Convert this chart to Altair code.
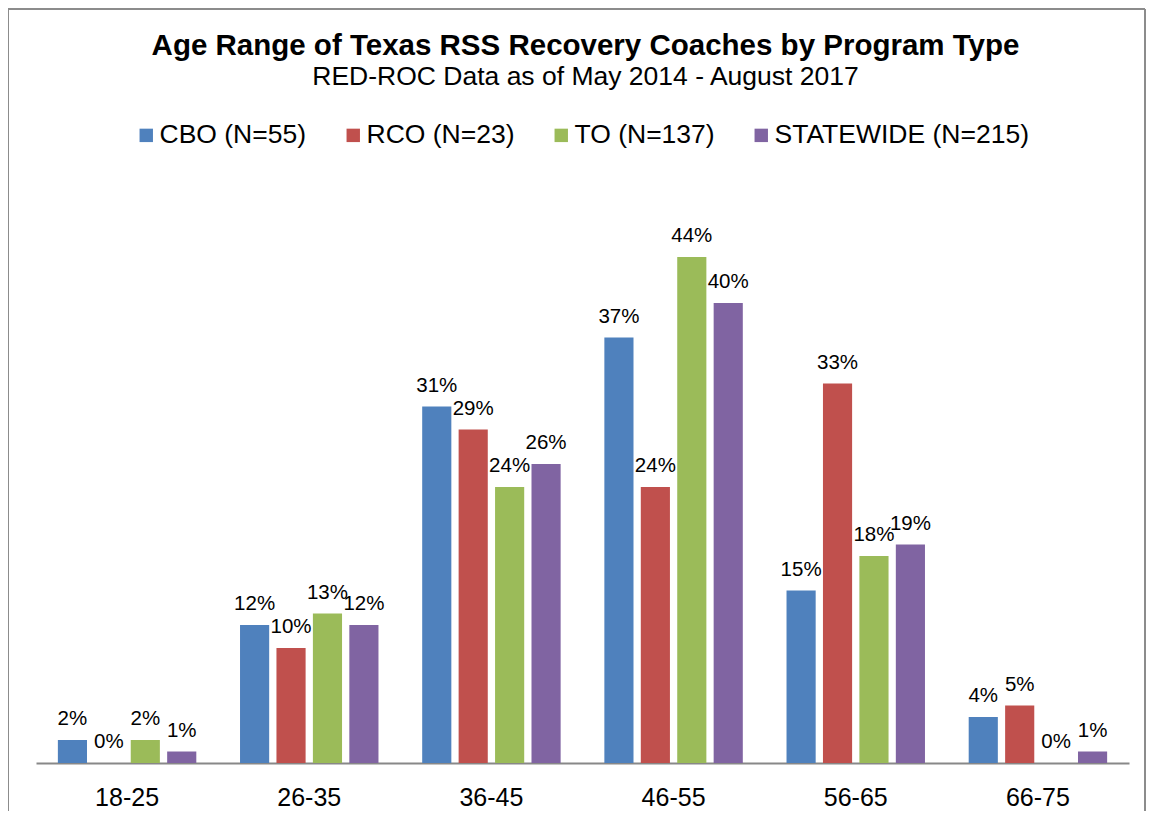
import altair as alt
import pandas as pd

age_groups = ["18-25", "26-35", "36-45", "46-55", "56-65", "66-75"]
programs = ["CBO (N=55)", "RCO (N=23)", "TO (N=137)", "STATEWIDE (N=215)"]
cbo = [2, 12, 31, 37, 15, 4]
rco = [0, 10, 29, 24, 33, 5]
to = [2, 13, 24, 44, 18, 0]
statewide = [1, 12, 26, 40, 19, 1]
colors = ["#4F81BD", "#C0504D", "#9BBB59", "#8064A2"]

rows = []
for prog, vals in zip(programs, [cbo, rco, to, statewide]):
    for age, v in zip(age_groups, vals):
        rows.append({"age": age, "program": prog, "value": v, "label": f"{v}%"})
df = pd.DataFrame(rows)

FONT = "Liberation Sans"

base = alt.Chart(df).encode(
    x=alt.X(
        "age:N",
        sort=age_groups,
        scale=alt.Scale(paddingInner=0.2, paddingOuter=0.1),
        axis=alt.Axis(
            title=None, labelAngle=0, ticks=False, grid=False,
            domainColor="#888888", domainWidth=2,
            labelFontSize=25, labelFont=FONT, labelColor="black", labelPadding=22,
        ),
    ),
    xOffset=alt.XOffset(
        "program:N", sort=programs,
        scale=alt.Scale(paddingInner=0.2, paddingOuter=0.1),
    ),
)

bars = base.mark_bar().encode(
    y=alt.Y("value:Q", scale=alt.Scale(domain=[0, 50], nice=False), axis=None),
    color=alt.Color(
        "program:N",
        sort=programs,
        scale=alt.Scale(domain=programs, range=colors),
        legend=alt.Legend(
            title=None, orient="none", legendX=97, legendY=-66,
            direction="horizontal", columns=4,
            symbolType="square", symbolSize=180, symbolStrokeWidth=0,
            labelFontSize=26.5, labelFont=FONT, labelColor="black",
            labelOffset=0, columnPadding=33, labelLimit=400, padding=0,
        ),
    ),
)

labels = base.mark_text(
    dy=-15, baseline="alphabetic", fontSize=20.5, font=FONT, color="black"
).encode(
    y=alt.Y("value:Q", scale=alt.Scale(domain=[0, 50], nice=False), axis=None),
    text="label:N",
)

frame = pd.DataFrame({"k": [0]})
border_color = "#8C8C8C"
left_edge = alt.Chart(frame).mark_rule(color=border_color, strokeWidth=2).encode(
    x=alt.value(-28), y=alt.value(-179), y2=alt.value(640)
)
top_edge = alt.Chart(frame).mark_rule(color=border_color, strokeWidth=2).encode(
    x=alt.value(-28), x2=alt.value(1109), y=alt.value(-179)
)
right_edge = alt.Chart(frame).mark_rule(color=border_color, strokeWidth=2).encode(
    x=alt.value(1109), y=alt.value(-179), y2=alt.value(640)
)

chart = alt.layer(left_edge, top_edge, right_edge, bars, labels).properties(
    width=1093,
    height=575,
    title=alt.Title(
        "Age Range of Texas RSS Recovery Coaches by Program Type",
        subtitle="RED-ROC Data as of May 2014 - August 2017",
        fontSize=29.5, font=FONT, fontWeight="bold", color="black",
        subtitleFontSize=26.5, subtitleFont=FONT, subtitleColor="black",
        anchor="middle", offset=-83, subtitlePadding=2, dx=3,
    ),
    autosize=alt.AutoSizeParams(type="none"),
    padding={"left": 28, "top": 180, "right": 17, "bottom": 48},
).configure_view(stroke=None)

chart.save("out.html", embed_options={"renderer": "svg", "actions": False})
